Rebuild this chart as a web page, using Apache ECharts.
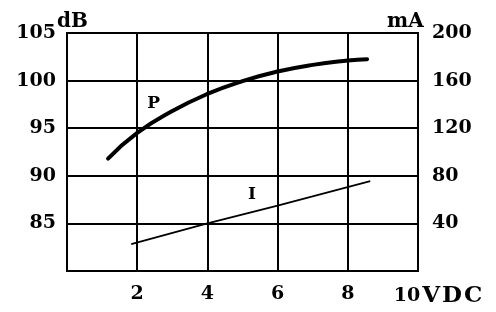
<!DOCTYPE html>
<html><head><meta charset="utf-8">
<script src="https://cdn.jsdelivr.net/npm/echarts@6/dist/echarts.min.js"></script>
<style>html,body{margin:0;padding:0;background:#fff}#c{width:496px;height:312px}</style>
</head><body><div id="c"></div>
<script>
// X axis (volts DC)
const xMin = 0, xMax = 10, xStep = 2;
const xUnit = 'VDC';
// Left axis: sound pressure (dB)
const dbMin = 80, dbMax = 105, dbStep = 5;
const dbName = 'dB';
// Right axis: current (mA)
const maMin = 0, maMax = 200, maStep = 40;
const maName = 'mA';
// Curve P (dB vs VDC)
const pVolts = [1.17, 2, 3, 4, 5, 6, 7, 8, 8.55];
const pDb    = [91.8, 94.5, 96.8, 98.6, 99.95, 100.95, 101.65, 102.1, 102.25];
// Curve I (mA vs VDC)
const iVolts = [1.83, 4, 6, 8.64];
const iMa    = [22.5, 40, 55, 75.6];
// Curve tags
const pTag = {name: 'P', x: 2.47, y: 97.6};
const iTag = {name: 'I', x: 5.27, y: 64.2};

const FONT = 'DejaVu Serif';
const chart = echarts.init(document.getElementById('c'), null, {renderer: 'canvas'});
const base = {fontFamily: FONT, fontWeight: 'bold', color: '#000', fontSize: 19};

function tagPoint(t, size) {
  return {
    coord: [t.x, t.y], symbol: 'circle', symbolSize: 1,
    itemStyle: {color: 'rgba(0,0,0,0)'},
    label: {show: true, position: 'inside', formatter: t.name, ...base, fontSize: size}
  };
}

chart.setOption({
  backgroundColor: '#fff',
  animation: false,
  grid: {left: 67, right: 78, top: 33, bottom: 41, show: true, borderColor: '#000', borderWidth: 2, backgroundColor: 'transparent'},
  xAxis: {
    type: 'value', min: xMin, max: xMax, interval: xStep,
    axisLine: {show: false}, axisTick: {show: false},
    splitLine: {show: true, lineStyle: {color: '#000', width: 2}},
    axisLabel: {
      margin: 14, ...base,
      formatter: v => v === xMin ? '' : (v === xMax ? '{n|' + v + '}' + xUnit.split('').map(ch => '{u|' + ch + '}').join('') : String(v)),
      rich: {
        n: {...base, padding: [0, 0, 0, 40]},
        u: {...base, fontSize: 23, padding: [0, 0, 0, 2]}
      }
    }
  },
  yAxis: [{
    type: 'value', min: dbMin, max: dbMax, interval: dbStep, position: 'left',
    name: dbName, nameLocation: 'end', nameGap: 1, nameMoveOverlap: false,
    nameTextStyle: {...base, fontSize: 20, align: 'left', padding: [0, 0, 0, -10]},
    axisLine: {show: false}, axisTick: {show: false},
    splitLine: {show: true, lineStyle: {color: '#000', width: 2}},
    axisLabel: {margin: 11, ...base, formatter: v => v === dbMin ? '' : String(v)}
  }, {
    type: 'value', min: maMin, max: maMax, interval: maStep, position: 'right',
    name: maName, nameLocation: 'end', nameGap: 1, nameMoveOverlap: false,
    nameTextStyle: {...base, fontSize: 20, align: 'left', padding: [0, 0, 0, -31]},
    axisLine: {show: false}, axisTick: {show: false},
    splitLine: {show: false},
    axisLabel: {margin: 14, ...base, formatter: v => v === maMin ? '' : String(v)}
  }],
  series: [{
    type: 'line', yAxisIndex: 0, smooth: true, symbol: 'none',
    data: pVolts.map((x, k) => [x, pDb[k]]),
    lineStyle: {color: '#000', width: 4, cap: 'round'},
    markPoint: {data: [tagPoint(pTag, 17)]}
  }, {
    type: 'line', yAxisIndex: 1, smooth: false, symbol: 'none',
    data: iVolts.map((x, k) => [x, iMa[k]]),
    lineStyle: {color: '#000', width: 1.8},
    markPoint: {data: [tagPoint(iTag, 17)]}
  }]
});
</script></body></html>
